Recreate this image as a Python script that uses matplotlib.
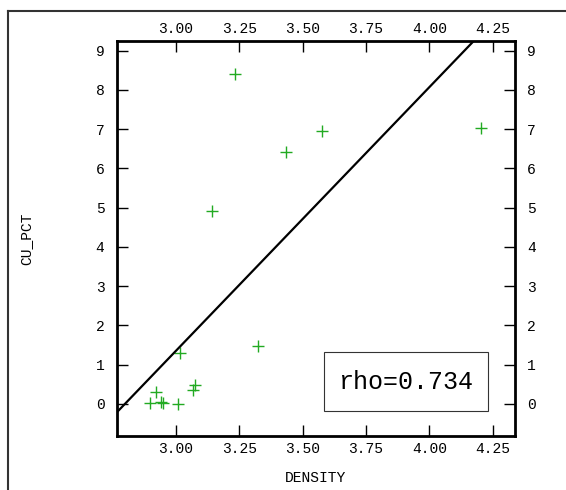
import numpy as np
import matplotlib
matplotlib.use("Agg")
from matplotlib import pyplot as plt
from matplotlib.lines import Line2D
from matplotlib.patches import Rectangle

density = [3.232, 3.436, 3.143, 3.578, 4.203, 3.322, 3.017, 2.920,
           2.897, 2.940, 2.950, 3.009, 3.068, 3.074]
cu_pct = [8.40, 6.42, 4.92, 6.95, 7.02, 1.47, 1.29, 0.31,
          0.01, 0.05, 0.01, 0.00, 0.36, 0.47]
rho_text = "rho=0.734"
xticks = [3.00, 3.25, 3.50, 3.75, 4.00, 4.25]
yticks = list(range(0, 10))

font = "Liberation Mono"

fig = plt.figure(figsize=(5.66, 4.90), dpi=100)
ax = fig.add_axes([0.2067, 0.1102, 0.7027, 0.8055])

ax.plot(density, cu_pct, "+", color="#22aa22", ms=8, mew=1.0, ls="none")

# least squares line
slope, icpt = np.polyfit(density, cu_pct, 1)
xl = np.array([2.6, 4.6])
ax.plot(xl, slope * xl + icpt, color="black", lw=1.6)

ax.set_xlim(2.767, 4.337)
ax.set_ylim(-0.82, 9.24)
ax.set_xticks(xticks)
ax.set_xticklabels(["%.2f" % v for v in xticks])
ax.set_yticks(yticks)
ax.tick_params(direction="in", length=8, width=1.0, top=True, right=True,
               labeltop=True, labelright=True, labelsize=10.5)
ax.tick_params(axis="x", pad=4)
ax.tick_params(axis="y", pad=9)
for lab in ax.get_xticklabels() + ax.get_yticklabels():
    lab.set_family(font)
for sp in ax.spines.values():
    sp.set_linewidth(2.0)

ax.set_xlabel("DENSITY", family=font, fontsize=10.5)
ax.set_ylabel("CU_PCT", family=font, fontsize=10.5)
ax.xaxis.set_label_coords(0.5, -0.089)
ax.yaxis.set_label_coords(-0.211, 0.5)

# rho box
ax.add_patch(Rectangle((0.52, 0.063), 0.412, 0.15, transform=ax.transAxes,
                       fc="white", ec="#333333", lw=0.8, zorder=3))
ax.text(0.726, 0.138, rho_text, transform=ax.transAxes, family=font,
        fontsize=18, ha="center", va="center", zorder=4)

# outer frame
fig.add_artist(Line2D([8/566, 8/566], [0, 1 - 11/490], color="#333333", lw=1.5))
fig.add_artist(Line2D([8/566, 1], [1 - 11/490, 1 - 11/490], color="#333333", lw=1.5))

fig.savefig("out.png", dpi=100)
